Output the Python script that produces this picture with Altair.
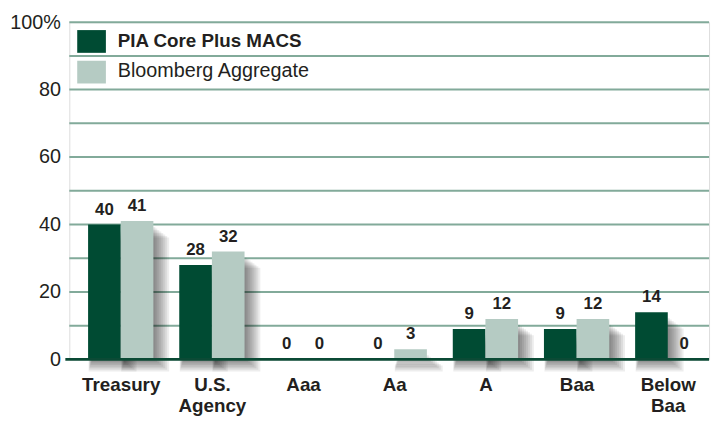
import altair as alt
import pandas as pd

categories = ["Treasury", "U.S. Agency", "Aaa", "Aa", "A", "Baa", "Below Baa"]
series = ["PIA Core Plus MACS", "Bloomberg Aggregate"]
pia_values = [40, 28, 0, 0, 9, 9, 14]
bbg_values = [41, 32, 0, 3, 12, 12, 0]
y_ticks = [0, 10, 20, 30, 40, 50, 60, 70, 80, 90, 100]

colors = ["#004b33", "#b5cbc3"]

rows = []
for i, c in enumerate(categories):
    rows.append({"idx": i, "category": c, "s": 0, "series": series[0], "value": pia_values[i]})
    rows.append({"idx": i, "category": c, "s": 1, "series": series[1], "value": bbg_values[i]})
df = pd.DataFrame(rows)
grid_df = pd.DataFrame({"v": y_ticks[1:]})

FONT = "Liberation Sans, Arial, sans-serif"
W, H = 647, 341
BW = 0.358  # bar width in category units

def js_label(c):
    parts = c.split(" ")
    if len(parts) > 1 and c in ("U.S. Agency", "Below Baa"):
        return "[" + ",".join("'" + p + "'" for p in parts) + "]"
    return "'" + c + "'"

label_expr = "[" + ",".join(js_label(c) for c in categories) + "][datum.value]"

x_scale = alt.Scale(domain=[-0.564, 6.453], nice=False, zero=False)
x_axis = alt.Axis(
    title=None, domain=False, ticks=False, grid=False, labelAngle=0,
    values=list(range(len(categories))), labelExpr=label_expr,
    labelFont=FONT, labelFontWeight="bold", labelFontSize=19,
    labelColor="#231f20", labelPadding=16, labelLineHeight=22,
    labelFlush=False, labelOverlap=False,
)
y_scale = alt.Scale(domain=[0, 100], nice=False)
y_axis = alt.Axis(
    title=None, values=y_ticks, domain=False, ticks=False, grid=False,
    labelFont=FONT, labelFontSize=20, labelColor="#231f20", labelPadding=9,
    labelExpr="datum.value % 20 == 0 ? (datum.value == 100 ? '100%' : datum.label) : ''",
)

base = alt.Chart(df).transform_calculate(
    x0="datum.idx + (datum.s == 0 ? -%f : 0)" % BW,
    x1="datum.idx + (datum.s == 0 ? 0 : %f)" % BW,
    xc="datum.idx + (datum.s == 0 ? -%f : %f)" % (BW / 2, BW / 2),
)

grid = alt.Chart(grid_df).mark_rule(color="#82aa9a", strokeWidth=2).encode(
    y=alt.Y("v:Q", scale=y_scale, axis=y_axis), x=alt.value(0), x2=alt.value(W)
)

shadows = []
for i in range(8):
    shadows.append(
        base.transform_filter("datum.value > 0").mark_rect(
            color="#000000", opacity=0.07,
            xOffset=4 - 0.5 * i, x2Offset=2 + 2 * i,
            yOffset=6 + 1.5 * i, y2Offset=1 + 1.6 * i,
        ).encode(
            x=alt.X("x0:Q", scale=x_scale, axis=x_axis), x2="x1:Q",
            y=alt.Y("value:Q", scale=y_scale), y2=alt.datum(0),
        )
    )

bars = base.mark_rect().encode(
    x=alt.X("x0:Q", scale=x_scale, axis=x_axis), x2="x1:Q",
    y=alt.Y("value:Q", scale=y_scale), y2=alt.datum(0),
    color=alt.Color("series:N", scale=alt.Scale(domain=series, range=colors), legend=None),
)
labels = base.mark_text(
    baseline="bottom", dy=-6, font=FONT, fontWeight="bold", fontSize=17, color="#231f20"
).encode(
    x=alt.X("xc:Q", scale=x_scale),
    y=alt.Y("value:Q", scale=y_scale),
    text="value:Q",
)
baseline = alt.Chart(pd.DataFrame({"v": [0]})).mark_rule(
    color="#0b4a35", strokeWidth=3
).encode(y=alt.Y("v:Q", scale=y_scale), x=alt.value(-4), x2=alt.value(W))

leg1 = alt.Chart(pd.DataFrame({"s": [series[0]]})).mark_rect(color=colors[0]).encode(
    x=alt.value(8), x2=alt.value(37), y=alt.value(8), y2=alt.value(31)
)
leg2 = alt.Chart(pd.DataFrame({"s": [series[1]]})).mark_rect(color=colors[1]).encode(
    x=alt.value(8), x2=alt.value(37), y=alt.value(39), y2=alt.value(62)
)
legt1 = alt.Chart(pd.DataFrame({"s": [series[0]]})).mark_text(
    align="left", baseline="middle", font=FONT, fontWeight="bold", fontSize=19, color="#231f20"
).encode(x=alt.value(49), y=alt.value(19), text="s:N")
legt2 = alt.Chart(pd.DataFrame({"s": [series[1]]})).mark_text(
    align="left", baseline="middle", font=FONT, fontSize=20, color="#231f20"
).encode(x=alt.value(49), y=alt.value(49), text="s:N")

chart = alt.layer(grid, *shadows, bars, labels, baseline, leg1, leg2, legt1, legt2).properties(
    width=W, height=H,
    autosize=alt.AutoSizeParams(type="none"),
    padding={"left": 62, "top": 12, "right": 6, "bottom": 60},
).configure_view(stroke=None).configure(background="white")

chart.save("out.html", embed_options={"renderer": "svg", "actions": False})
